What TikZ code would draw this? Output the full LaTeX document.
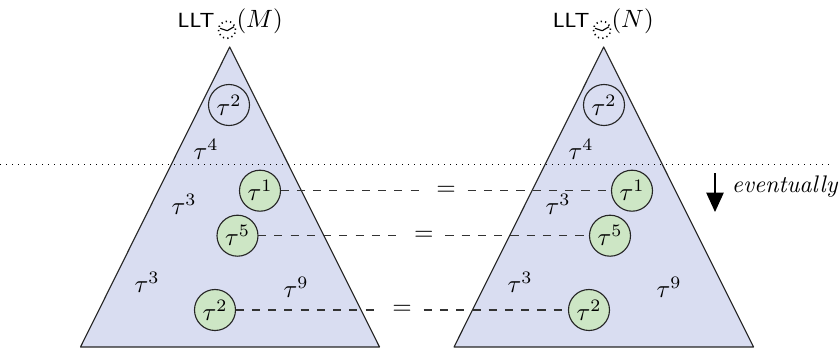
\documentclass[tikz,border=0pt]{standalone}
\usepackage{amsmath}
\usetikzlibrary{arrows.meta}
\tikzset{
  tri/.style={draw=black!85,fill=blueA,line width=0.45pt,line join=round},
  tok/.style={inner sep=0pt,outer sep=0pt},
  circ/.style={circle,draw=black!85,line width=0.45pt,minimum size=16.4pt,inner sep=0pt,outer sep=0pt},
  act/.style={circ,fill=greenA},
  link/.style={draw=black!80,line width=0.5pt,dash pattern=on 3.25pt off 3.25pt},
  eqn/.style={inner xsep=4.8pt,inner ysep=1pt,outer sep=0pt,text=black},
  clockdot/.style={line width=0.65pt,dash pattern=on 0.5pt off 1.28pt},
  ttl/.style={tok,font=\fontsize{8.2}{10}\selectfont\sffamily},
}
\definecolor{blueA}{HTML}{D9DDF1}
\definecolor{greenA}{HTML}{CDE6C5}
\begin{document}
\begin{tikzpicture}[x=0.4pt,y=-0.4pt]
\useasboundingbox (0,0) rectangle (839,348);
% triangles
\draw[tri] (229.7,47) -- (379.5,347) -- (80.5,347) -- cycle;
\draw[tri] (603.7,47) -- (753.5,347) -- (454,347) -- cycle;
% horizon
\coordinate (hl) at (0,164);
\coordinate (hr) at (830,164);
\draw[dotted,line width=0.4pt] (hl) -- (hr);
% titles
\node[ttl,anchor=base east] (lm) at (214.5,27) {LLT};
\node[tok,anchor=base west] (pm) at (236.5,27.5) {$(M)$};
\node[ttl,anchor=base east] (ln) at (589.5,27) {LLT};
\node[tok,anchor=base west] (pn) at (611.5,27.5) {$(N)$};
\foreach \cx in {227,602}{
  \draw[clockdot] (\cx,29.8) circle (3.4pt);
  \draw[line width=0.45pt,line join=round] (\cx-7,28.3) -- (\cx+0.3,30.7) -- (\cx+7,26.7);
}
% inert tokens
\node[circ] (a2) at (229,105) {$\tau^2$};
\node[tok] (a4) at (206,149) {$\tau^4$};
\node[tok] (a3) at (184,204) {$\tau^3$};
\node[tok] (a3b) at (147,282) {$\tau^3$};
\node[tok] (a9) at (296,287.5) {$\tau^9$};
\node[circ] (b2) at (604,105) {$\tau^2$};
\node[tok] (b4) at (581,149) {$\tau^4$};
\node[tok] (b3) at (558,204) {$\tau^3$};
\node[tok] (b3b) at (520,282) {$\tau^3$};
\node[tok] (b9) at (669,287.5) {$\tau^9$};
% matched tokens
\node[act] (m1) at (260,190.7) {$\tau^1$};
\node[act] (m5) at (237.5,235.7) {$\tau^5$};
\node[act] (m2) at (215,310) {$\tau^2$};
\node[act] (n1) at (632,190.7) {$\tau^1$};
\node[act] (n5) at (610,235.7) {$\tau^5$};
\node[act] (n2) at (589,310) {$\tau^2$};
\path (m1) -- node[eqn] (e1) {$=$} (n1);
\path (m5) -- node[eqn] (e5) {$=$} (n5);
\path (m2) -- node[eqn] (e2) {$=$} (n2);
\draw[link] (m1) -- (e1);
\draw[link] (e1) -- (n1);
\draw[link] (m5) -- (e5);
\draw[link] (e5) -- (n5);
\draw[link] (m2) -- (e2);
\draw[link] (e2) -- (n2);
% eventually
\coordinate (ev1) at (715,173);
\coordinate (ev2) at (715,212);
\draw[line width=0.5pt,-{Triangle[length=7.8pt,width=7pt]}] (ev1) -- (ev2);
\node[tok,anchor=base east,font=\fontsize{9.6}{11}\selectfont\itshape] (ev) at (837.5,192) {eventually};
\end{tikzpicture}
\end{document}
